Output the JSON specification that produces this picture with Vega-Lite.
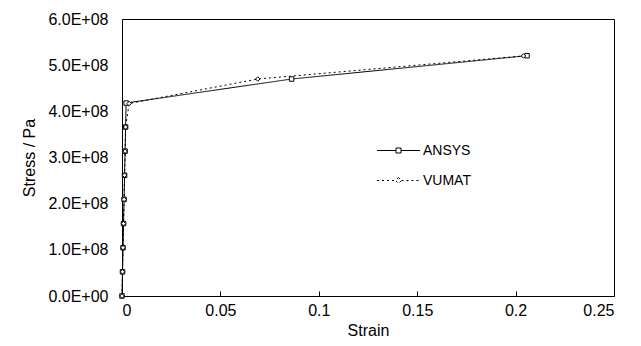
{
  "$schema": "https://vega.github.io/schema/vega-lite/v6.json",
  "autosize": {"type": "none"},
  "padding": {"left": 122, "top": 19, "right": 27, "bottom": 49},
  "width": 492,
  "height": 277,
  "background": "white",
  "config": {
    "font": "Liberation Sans",
    "view": {"stroke": "#000", "strokeWidth": 1},
    "axis": {"grid": false, "domainColor": "#000", "tickColor": "#000", "labelColor": "#000", "titleColor": "#000", "labelFont": "Liberation Sans", "titleFont": "Liberation Sans", "labelFontSize": 16, "titleFontSize": 16, "titleFontWeight": "normal"}
  },
  "data": {"values": [
    {"series": "ANSYS", "strain": 0, "stress": 0},
    {"series": "ANSYS", "strain": 0.00026, "stress": 52300000},
    {"series": "ANSYS", "strain": 0.00052, "stress": 104600000},
    {"series": "ANSYS", "strain": 0.00078, "stress": 156900000},
    {"series": "ANSYS", "strain": 0.00105, "stress": 209200000},
    {"series": "ANSYS", "strain": 0.00131, "stress": 261500000},
    {"series": "ANSYS", "strain": 0.00157, "stress": 313800000},
    {"series": "ANSYS", "strain": 0.00183, "stress": 366000000},
    {"series": "ANSYS", "strain": 0.00209, "stress": 418000000},
    {"series": "ANSYS", "strain": 0.0862, "stress": 470000000},
    {"series": "ANSYS", "strain": 0.2058, "stress": 520500000},
    {"series": "VUMAT", "strain": 0, "stress": 0},
    {"series": "VUMAT", "strain": 0.00026, "stress": 52300000},
    {"series": "VUMAT", "strain": 0.00052, "stress": 104600000},
    {"series": "VUMAT", "strain": 0.00078, "stress": 156900000},
    {"series": "VUMAT", "strain": 0.00105, "stress": 209200000},
    {"series": "VUMAT", "strain": 0.00131, "stress": 261500000},
    {"series": "VUMAT", "strain": 0.00157, "stress": 313800000},
    {"series": "VUMAT", "strain": 0.00183, "stress": 366000000},
    {"series": "VUMAT", "strain": 0.0036, "stress": 417000000},
    {"series": "VUMAT", "strain": 0.069, "stress": 470000000},
    {"series": "VUMAT", "strain": 0.204, "stress": 520000000}
  ]},
  "encoding": {
    "x": {"field": "strain", "type": "quantitative", "title": "Strain",
      "scale": {"domain": [0, 0.25], "nice": false, "zero": false},
      "axis": {"values": [0, 0.05, 0.1, 0.15, 0.2, 0.25], "format": "~g", "tickSize": -5, "labelPadding": 11, "titlePadding": 4}},
    "y": {"field": "stress", "type": "quantitative", "title": "Stress / Pa",
      "scale": {"domain": [0, 600000000], "nice": false},
      "axis": {"values": [0, 100000000, 200000000, 300000000, 400000000, 500000000, 600000000], "ticks": false, "labelPadding": 14, "titlePadding": 10,
        "labelExpr": "datum.value == 0 ? '0.0E+00' : format(datum.value / 1e8, '.1f') + 'E+08'"}}
  },
  "layer": [
    {
      "mark": {"type": "line", "color": "#000", "strokeWidth": 1},
      "encoding": {
        "detail": {"field": "series"},
        "strokeDash": {"field": "series", "type": "nominal",
          "scale": {"domain": ["ANSYS", "VUMAT"], "range": [[1, 0], [2, 3]]},
          "legend": {
            "orient": "none", "legendX": 266, "legendY": 121, "title": null,
            "symbolSize": 400, "symbolStrokeColor": "#000", "symbolStrokeWidth": 1, "symbolFillColor": "white",
            "labelFontSize": 14, "labelFont": "Liberation Sans", "labelColor": "#000", "labelOffset": 14,
            "rowPadding": 12,
            "encode": {"symbols": {"update": {"shape": {"signal": "datum.value === 'ANSYS' ? 'M-2.15,0H-0.25M0.25,0H2.15M-0.25,-0.25H0.25V0.25H-0.25Z' : 'M-2.15,0H-0.3M0.3,0H2.15M0,-0.3L0.3,0L0,0.3L-0.3,0Z'"}}}}
          }}
      }
    },
    {
      "mark": {"type": "point", "filled": true, "fill": "white", "stroke": "#000", "strokeWidth": 1, "size": 20, "opacity": 1},
      "encoding": {
        "shape": {"condition": {"test": "datum.series === 'ANSYS'", "value": "square"}, "value": "diamond"}
      }
    }
  ]
}
